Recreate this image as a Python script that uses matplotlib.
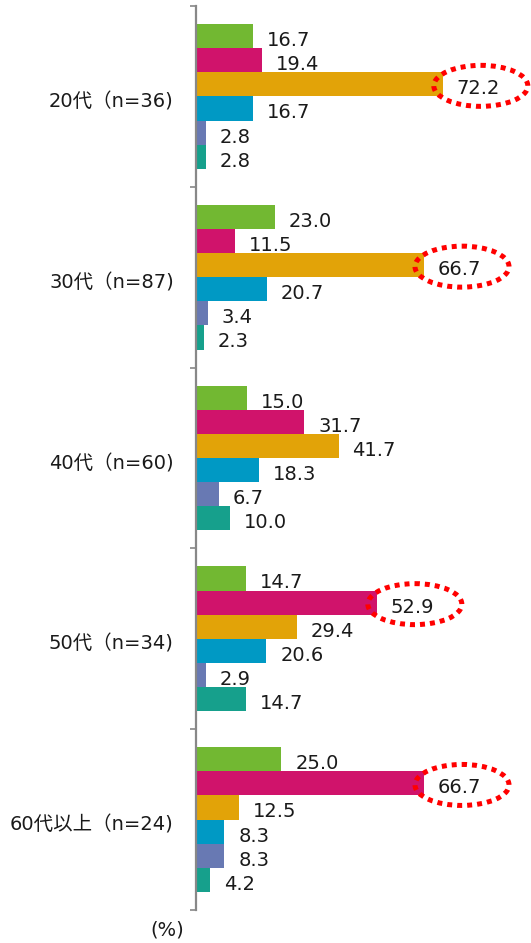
import numpy as np
import matplotlib
matplotlib.use("Agg")
import matplotlib.pyplot as plt
from matplotlib.patches import Ellipse

plt.rcParams['font.family'] = ['DejaVu Sans', 'Noto Sans CJK JP']

## data
groups = ['20代（n=36)', '30代（n=87)', '40代（n=60)', '50代（n=34)', '60代以上（n=24)']
s1 = [16.7, 23.0, 15.0, 14.7, 25.0]
s2 = [19.4, 11.5, 31.7, 52.9, 66.7]
s3 = [72.2, 66.7, 41.7, 29.4, 12.5]
s4 = [16.7, 20.7, 18.3, 20.6, 8.3]
s5 = [2.8, 3.4, 6.7, 2.9, 8.3]
s6 = [2.8, 2.3, 10.0, 14.7, 4.2]
series = [s1, s2, s3, s4, s5, s6]
colors = ['#72B832', '#D0136B', '#E2A308', '#0099C4', '#6879B3', '#16A08C']
highlights = [(0, 2), (1, 2), (3, 1), (4, 1)]   # (group, series) with red circle

## figure
fig = plt.figure(figsize=(5.31, 9.43), dpi=100)
ax = fig.add_axes([196/531, 33/943, 1 - 196/531, 904/943])

n = len(series)
bh = 0.8 / n
yc = np.arange(len(groups))
for j, vals in enumerate(series):
    ypos = yc - 0.4 + (j + 0.5) * bh
    ax.barh(ypos, vals, height=bh, color=colors[j], edgecolor='none')
    for y, v in zip(ypos, vals):
        ax.annotate(f'{v:.1f}', (v, y), xytext=(10, -3.2), textcoords='offset points',
                    va='center', ha='left', fontsize=14, color='#1a1a1a')

# red dotted ellipses around the biggest values
px_x = 335 / 98.0      # pixels per x unit
px_y = 904 / 5.0       # pixels per group
for g, j in highlights:
    v = series[j][g]
    y = yc[g] - 0.4 + (j + 0.5) * bh
    e = Ellipse((v + 38 / px_x, y + 1.5 / px_y), 94 / px_x, 41 / px_y, fill=False,
                edgecolor='#FF0000', lw=3.6, linestyle=(0, (1, 1)), clip_on=False)
    ax.add_patch(e)

ax.set_xlim(0, 98)
ax.set_ylim(len(groups) - 0.5, -0.5)

for s in ['top', 'right', 'bottom']:
    ax.spines[s].set_visible(False)
ax.spines['left'].set_color('#888888')
ax.spines['left'].set_linewidth(1.6)
ax.set_xticks([])
ax.set_yticks(np.arange(-0.5, len(groups), 1.0))
ax.set_yticklabels([])
ax.tick_params(axis='y', which='major', length=4.5, width=1.2, color='#888888', direction='out')
ax.set_yticks(yc + 0.02, minor=True)
ax.set_yticklabels(groups, minor=True, fontsize=14, color='#1a1a1a')
ax.tick_params(axis='y', which='minor', length=0, pad=16)

fig.text(167/531, 1 - 930/943, '(%)', ha='center', va='center', fontsize=14, color='#1a1a1a')

fig.savefig('out.png', dpi=100)
